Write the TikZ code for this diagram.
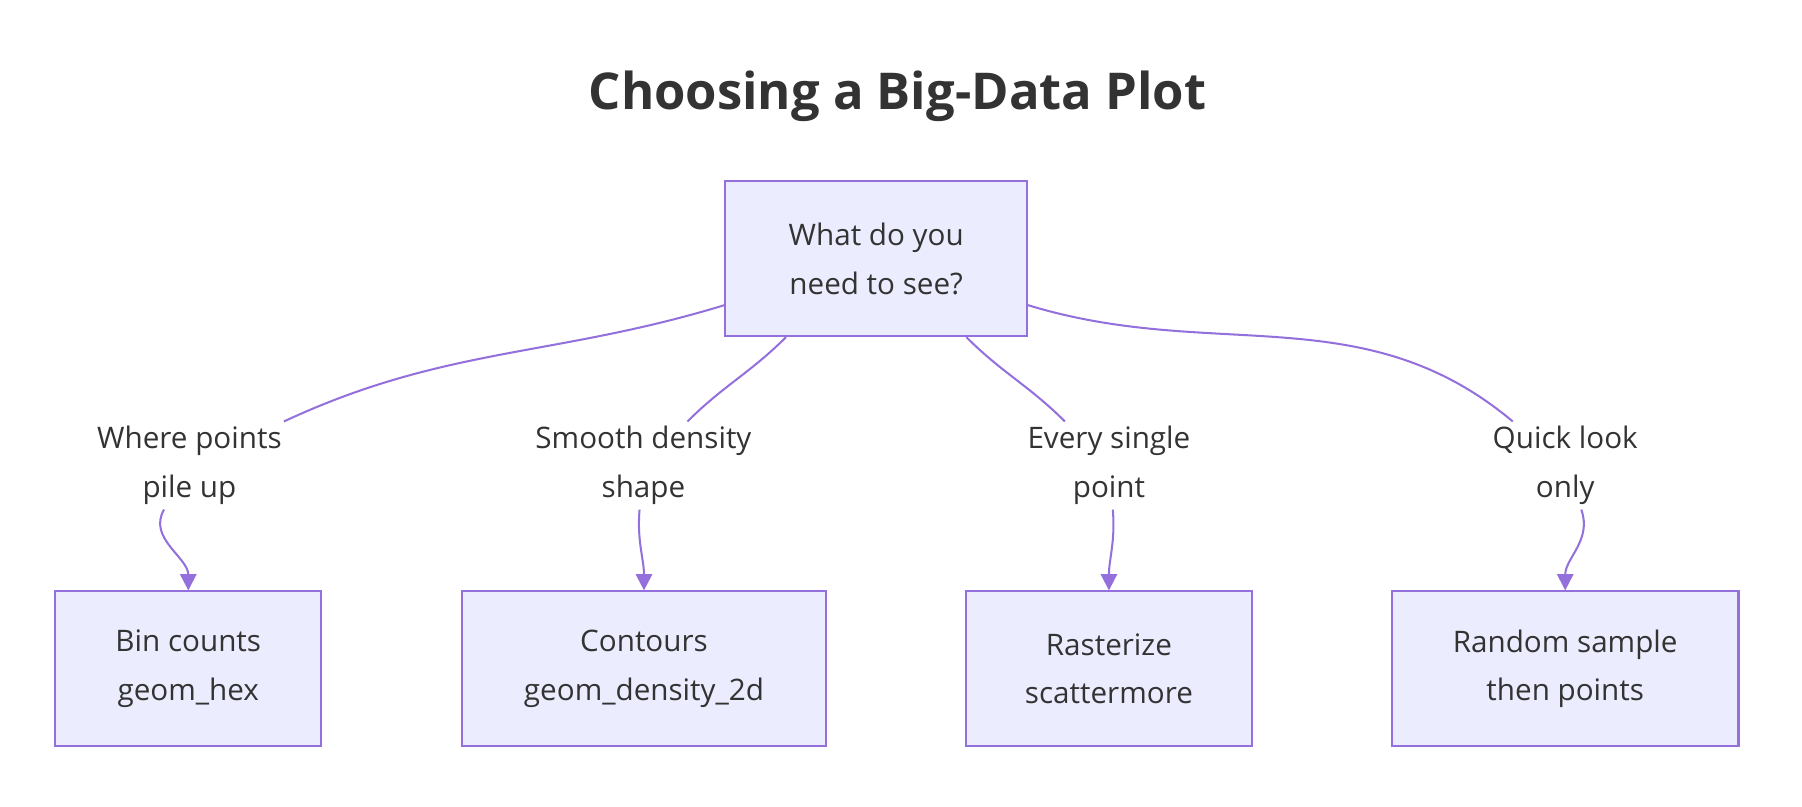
\documentclass[tikz,border=0pt]{standalone}
\usepackage{fontspec}
\setmainfont{Open Sans}
\usetikzlibrary{arrows.meta}
\definecolor{boxfill}{HTML}{ECECFF}
\definecolor{boxline}{HTML}{9370DB}
\definecolor{ink}{HTML}{333333}
\begin{document}
\begin{tikzpicture}[
  box/.style={draw=boxline, fill=boxfill, line width=0.5pt, text=ink, align=center,
    font=\fontsize{7.3}{12}\selectfont, minimum height=1.34cm},
  lbl/.style={text=ink, align=center, font=\fontsize{7.3}{12}\selectfont, inner sep=1pt},
  edge/.style={draw=boxline, line width=0.5pt},
  tip/.style={-{Triangle[length=4pt,width=4pt]}}]
\useasboundingbox (0,0) rectangle (15.6,6.98);
\node[text=ink, font=\fontsize{12.5}{15}\bfseries\selectfont] (title) at (7.77,6.15) {Choosing a Big-Data Plot};
\node[box, minimum width=2.61cm] (q) at (7.585,4.74) {What do you\\need to see?};
\node[box, minimum width=2.30cm] (a) at (1.63,1.19) {Bin counts\\geom\_hex};
\node[box, minimum width=3.15cm] (b) at (5.575,1.19) {Contours\\geom\_density\_2d};
\node[box, minimum width=2.48cm] (c) at (9.60,1.19) {Rasterize\\scattermore};
\node[box, minimum width=3.00cm] (d) at (13.55,1.19) {Random sample\\then points};
\node[lbl] (l1) at (1.64,2.95) {Where points\\pile up};
\node[lbl] (l2) at (5.57,2.95) {Smooth density\\shape};
\node[lbl] (l3) at (9.60,2.95) {Every single\\point};
\node[lbl] (l4) at (13.55,2.95) {Quick look\\only};
% edges through the labels
\draw[edge] (q.197) to[out=197,in=25] (l1);
\draw[edge] (q.221) to[out=225,in=45] (l2);
\draw[edge] (q.319) to[out=-45,in=135] (l3);
\draw[edge] (q.343) to[out=-17,in=140] (l4);
\draw[edge,tip] (l1) to[out=-120,in=90] (a);
\draw[edge,tip] (l2) to[out=-95,in=90] (b);
\draw[edge,tip] (l3) to[out=-85,in=90] (c);
\draw[edge,tip] (l4) to[out=-70,in=90] (d);
\end{tikzpicture}
\end{document}
